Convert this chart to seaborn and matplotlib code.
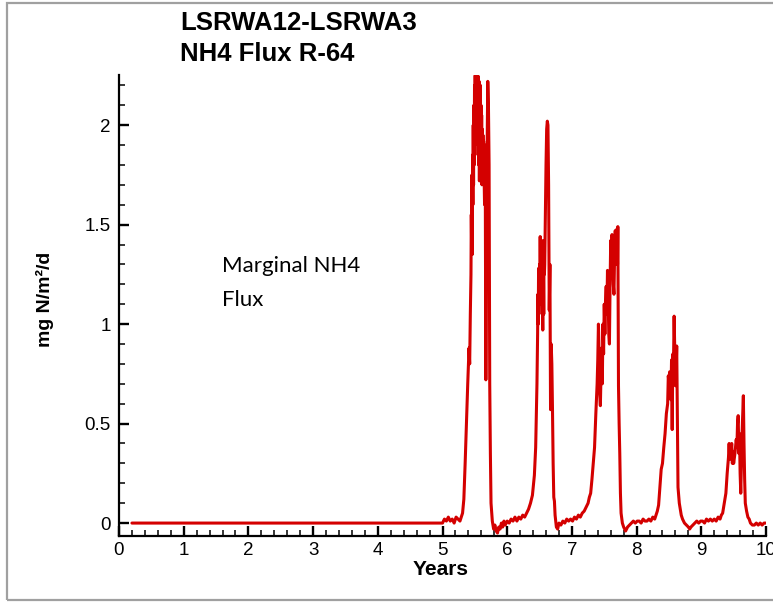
import numpy as np
import pandas as pd
import matplotlib
matplotlib.use("Agg")
import matplotlib.pyplot as plt
from matplotlib.ticker import FuncFormatter, MultipleLocator
from matplotlib.patches import Rectangle
import seaborn as sns

# ---- data (in time segments) ----
years_a = [0.20, 5.00, 5.03, 5.06, 5.09, 5.12, 5.15, 5.18, 5.21, 5.24, 5.27, 5.29, 5.31]
flux_a = [0.00, 0.00, 0.02, 0.01, 0.03, 0.01, 0.02, 0.00, 0.03, 0.02, 0.01, 0.03, 0.05]

years_b = [5.33, 5.35, 5.37, 5.39, 5.41, 5.42, 5.43, 5.44, 5.445, 5.45, 5.455, 5.46, 5.465,
           5.47, 5.475, 5.48, 5.485, 5.49, 5.495, 5.50, 5.505, 5.51, 5.515, 5.52, 5.525,
           5.53, 5.535, 5.54, 5.545, 5.55, 5.555, 5.56, 5.565, 5.57, 5.575, 5.58, 5.585,
           5.59, 5.595, 5.60, 5.605, 5.61, 5.615, 5.62, 5.625, 5.63, 5.635, 5.64, 5.645,
           5.65, 5.655, 5.66, 5.67, 5.68, 5.69, 5.70, 5.71, 5.72, 5.73, 5.74, 5.75, 5.77]
flux_b = [0.12, 0.30, 0.50, 0.70, 0.88, 0.80, 1.05, 1.25, 1.55, 1.40, 1.75, 1.35, 1.85,
          1.60, 2.00, 1.70, 2.10, 1.80, 2.20, 1.90, 2.25, 1.95, 2.25, 2.00, 2.25,
          1.95, 2.25, 2.05, 2.25, 1.85, 2.24, 1.80, 2.22, 1.72, 2.18, 1.75, 2.20,
          1.72, 2.10, 1.75, 2.05, 1.70, 1.98, 1.72, 1.95, 1.80, 1.92, 1.88, 1.70,
          1.60, 1.90, 1.85, 0.72, 1.40, 1.90, 2.22, 2.10, 1.80, 0.70, 0.35, 0.10, 0.01]

years_c = [5.79, 5.81, 5.83, 5.85, 5.87, 5.89, 5.91, 5.93, 5.95, 5.97, 6.00, 6.03, 6.06,
           6.09, 6.12, 6.15, 6.18, 6.21, 6.24, 6.27, 6.30, 6.33, 6.36, 6.39, 6.42, 6.44,
           6.46, 6.47, 6.475, 6.48, 6.485, 6.49, 6.495, 6.50, 6.505, 6.51, 6.515, 6.52,
           6.525, 6.53, 6.535, 6.54, 6.545, 6.55, 6.555, 6.56, 6.565, 6.57, 6.575, 6.58,
           6.59, 6.60, 6.61, 6.62, 6.63, 6.64, 6.65, 6.66, 6.67, 6.68, 6.69, 6.70, 6.71,
           6.72, 6.73, 6.74, 6.76, 6.78]
flux_c = [-0.03, -0.01, -0.04, -0.05, -0.02, -0.03, 0.00, -0.02, 0.01, -0.01, 0.01, 0.00, 0.02,
          0.01, 0.03, 0.01, 0.03, 0.02, 0.04, 0.03, 0.05, 0.07, 0.10, 0.14, 0.24, 0.38,
          0.70, 0.95, 1.15, 1.00, 1.28, 1.05, 1.22, 1.30, 1.10, 1.44, 1.15, 1.10,
          1.40, 1.20, 1.42, 1.25, 1.10, 0.97, 1.20, 1.25, 1.05, 1.42, 1.25, 1.30,
          1.55, 1.80, 1.98, 2.02, 2.00, 1.70, 1.07, 1.30, 0.57, 0.90, 0.80, 0.57, 0.30,
          0.13, 0.11, 0.04, -0.02, -0.03]

years_d = [6.80, 6.83, 6.86, 6.89, 6.92, 6.95, 6.98, 7.01, 7.04, 7.07, 7.10, 7.13, 7.16,
           7.19, 7.22, 7.25, 7.27, 7.29, 7.31, 7.33, 7.35, 7.37, 7.39, 7.40, 7.41, 7.42,
           7.43, 7.44, 7.45, 7.46, 7.47, 7.48, 7.49, 7.50, 7.51, 7.52, 7.53, 7.54, 7.55,
           7.56, 7.57, 7.58, 7.59, 7.60, 7.61, 7.62, 7.63, 7.64, 7.65, 7.66, 7.67, 7.68,
           7.69, 7.70, 7.705, 7.71, 7.72, 7.73, 7.74, 7.75, 7.76, 7.78, 7.80, 7.83, 7.86,
           7.89]
flux_d = [0.00, -0.01, 0.01, 0.00, 0.02, 0.01, 0.02, 0.01, 0.03, 0.02, 0.04, 0.03, 0.05,
          0.06, 0.08, 0.10, 0.13, 0.15, 0.22, 0.30, 0.38, 0.55, 0.70, 0.82, 1.00, 0.85,
          0.65, 0.59, 0.75, 0.88, 0.70, 1.00, 0.85, 1.10, 0.95, 1.12, 1.19, 1.05, 1.27,
          1.15, 0.95, 0.90, 1.20, 1.42, 1.25, 1.45, 1.35, 1.20, 1.15, 1.35, 1.47, 1.30,
          1.45, 1.48, 1.30, 1.49, 0.69, 0.50, 0.35, 0.15, 0.05, 0.00, -0.02, -0.04, -0.02,
          -0.01]

years_e = [7.92, 7.95, 7.98, 8.01, 8.04, 8.07, 8.10, 8.13, 8.16, 8.19, 8.22, 8.25, 8.28,
           8.30, 8.32, 8.34, 8.36, 8.38, 8.40, 8.42, 8.44, 8.46, 8.48, 8.49, 8.50, 8.51,
           8.52, 8.53, 8.54, 8.55, 8.56, 8.57, 8.58, 8.59, 8.60, 8.61, 8.62, 8.63, 8.64,
           8.66, 8.67, 8.69, 8.71, 8.74, 8.77, 8.80, 8.82, 8.84, 8.87]
flux_e = [0.00, 0.01, 0.00, 0.01, 0.01, 0.00, 0.02, 0.01, 0.01, 0.02, 0.01, 0.03, 0.02,
          0.04, 0.06, 0.09, 0.18, 0.27, 0.30, 0.38, 0.45, 0.55, 0.60, 0.74, 0.70, 0.76,
          0.75, 0.62, 0.82, 0.47, 0.85, 0.80, 1.04, 0.85, 0.69, 0.75, 0.89, 0.55, 0.18,
          0.10, 0.08, 0.04, 0.02, 0.00, -0.01, -0.02, -0.03, -0.02, -0.01]

years_f = [8.90, 8.93, 8.96, 8.99, 9.02, 9.05, 9.08, 9.11, 9.14, 9.17, 9.20, 9.23, 9.26,
           9.29, 9.31, 9.33, 9.35, 9.37, 9.38, 9.40, 9.42, 9.43, 9.44, 9.45, 9.46, 9.47,
           9.48, 9.49, 9.50, 9.52, 9.54, 9.55, 9.56, 9.57, 9.58, 9.59, 9.60, 9.61, 9.62,
           9.63, 9.64, 9.65, 9.66, 9.67, 9.68, 9.70, 9.72, 9.74, 9.76, 9.79, 9.82, 9.85,
           9.88, 9.91, 9.94, 9.97, 10.00]
flux_f = [0.00, 0.01, 0.00, 0.01, 0.01, 0.00, 0.02, 0.01, 0.02, 0.01, 0.02, 0.01, 0.03,
          0.02, 0.04, 0.05, 0.09, 0.13, 0.15, 0.25, 0.33, 0.40, 0.32, 0.38, 0.34, 0.40,
          0.30, 0.36, 0.30, 0.35, 0.42, 0.38, 0.50, 0.54, 0.35, 0.45, 0.25, 0.15, 0.30,
          0.45, 0.55, 0.64, 0.40, 0.22, 0.10, 0.06, 0.03, 0.02, 0.00, -0.01, -0.01, 0.00,
          -0.01, 0.00, -0.01, 0.00, 0.00]

x_ticks = [0, 1, 2, 3, 4, 5, 6, 7, 8, 9, 10]
y_ticks = [0, 0.5, 1, 1.5, 2]
title_lines = ["LSRWA12-LSRWA3", "NH4 Flux R-64"]
annotation_lines = ["Marginal NH4", "Flux"]

years = years_a + years_b + years_c + years_d + years_e + years_f
flux = flux_a + flux_b + flux_c + flux_d + flux_e + flux_f
assert len(years) == len(flux)

df = pd.DataFrame({"Years": years, "flux": flux})

sns.set_style("ticks", {"xtick.color": "black", "ytick.color": "black",
                        "xtick.direction": "in", "ytick.direction": "in"})
plt.rcParams["font.family"] = ["Liberation Sans", "DejaVu Sans"]

W, H = 773, 603
fig = plt.figure(figsize=(W / 100, H / 100), dpi=100)
ax_l, ax_r, ax_t, ax_b = 119, 766, 75, 536
ax = fig.add_axes([ax_l / W, 1 - ax_b / H, (ax_r - ax_l) / W, (ax_b - ax_t) / H])

sns.lineplot(data=df, x="Years", y="flux", ax=ax, color="#d40000",
             linewidth=2.2, sort=False, estimator=None)

ax.set_xlim(0, 10)
ax.set_ylim(-0.065, 2.252)
ax.set_xticks(x_ticks)
ax.set_yticks(y_ticks)
ax.xaxis.set_minor_locator(MultipleLocator(0.2))
ax.yaxis.set_minor_locator(MultipleLocator(0.1))
ax.yaxis.set_major_formatter(FuncFormatter(lambda v, p: f"{v:g}"))
ax.set_xlabel("")
ax.set_ylabel("")

for s in ["top", "right"]:
    ax.spines[s].set_visible(False)
for s in ["left", "bottom"]:
    ax.spines[s].set_color("black")
    ax.spines[s].set_linewidth(1.6)

ax.tick_params(axis="both", which="both", bottom=True, left=True, direction="in",
               color="black")
ax.tick_params(axis="both", which="major", length=7, width=1.7,
               labelsize=13.5, labelcolor="black")
ax.tick_params(axis="both", which="minor", length=4, width=1.1)
ax.tick_params(axis="x", which="major", pad=4)
ax.tick_params(axis="y", which="major", pad=6)

# titles
fig.text(180 / W, 1 - 30.5 / H, title_lines[0], fontsize=18.5, fontweight="bold",
         ha="left", va="baseline", color="black")
fig.text(180 / W, 1 - 61 / H, title_lines[1], fontsize=18.5, fontweight="bold",
         ha="left", va="baseline", color="black")

# axis labels
fig.text(45 / W, 1 - 299 / H, "mg N/m²/d", rotation=90, fontsize=14,
         fontweight="bold", ha="center", va="center", color="black")
fig.text(441 / W, 1 - 575 / H, "Years", fontsize=15, fontweight="bold",
         ha="center", va="baseline", color="black")

# annotation
fig.text(222 / W, 1 - 272 / H, annotation_lines[0], fontsize=16,
         family=["Lato", "DejaVu Sans"], ha="left", va="baseline", color="black")
fig.text(222 / W, 1 - 306.5 / H, annotation_lines[1], fontsize=16,
         family=["Lato", "DejaVu Sans"], ha="left", va="baseline", color="black")

# outer frame
fig.patches.append(Rectangle((7 / W, 3 / H), 1.2, 597 / H, transform=fig.transFigure,
                             fill=False, edgecolor="#a0a0a0", linewidth=1.6))

fig.savefig("out.png", dpi=100)
